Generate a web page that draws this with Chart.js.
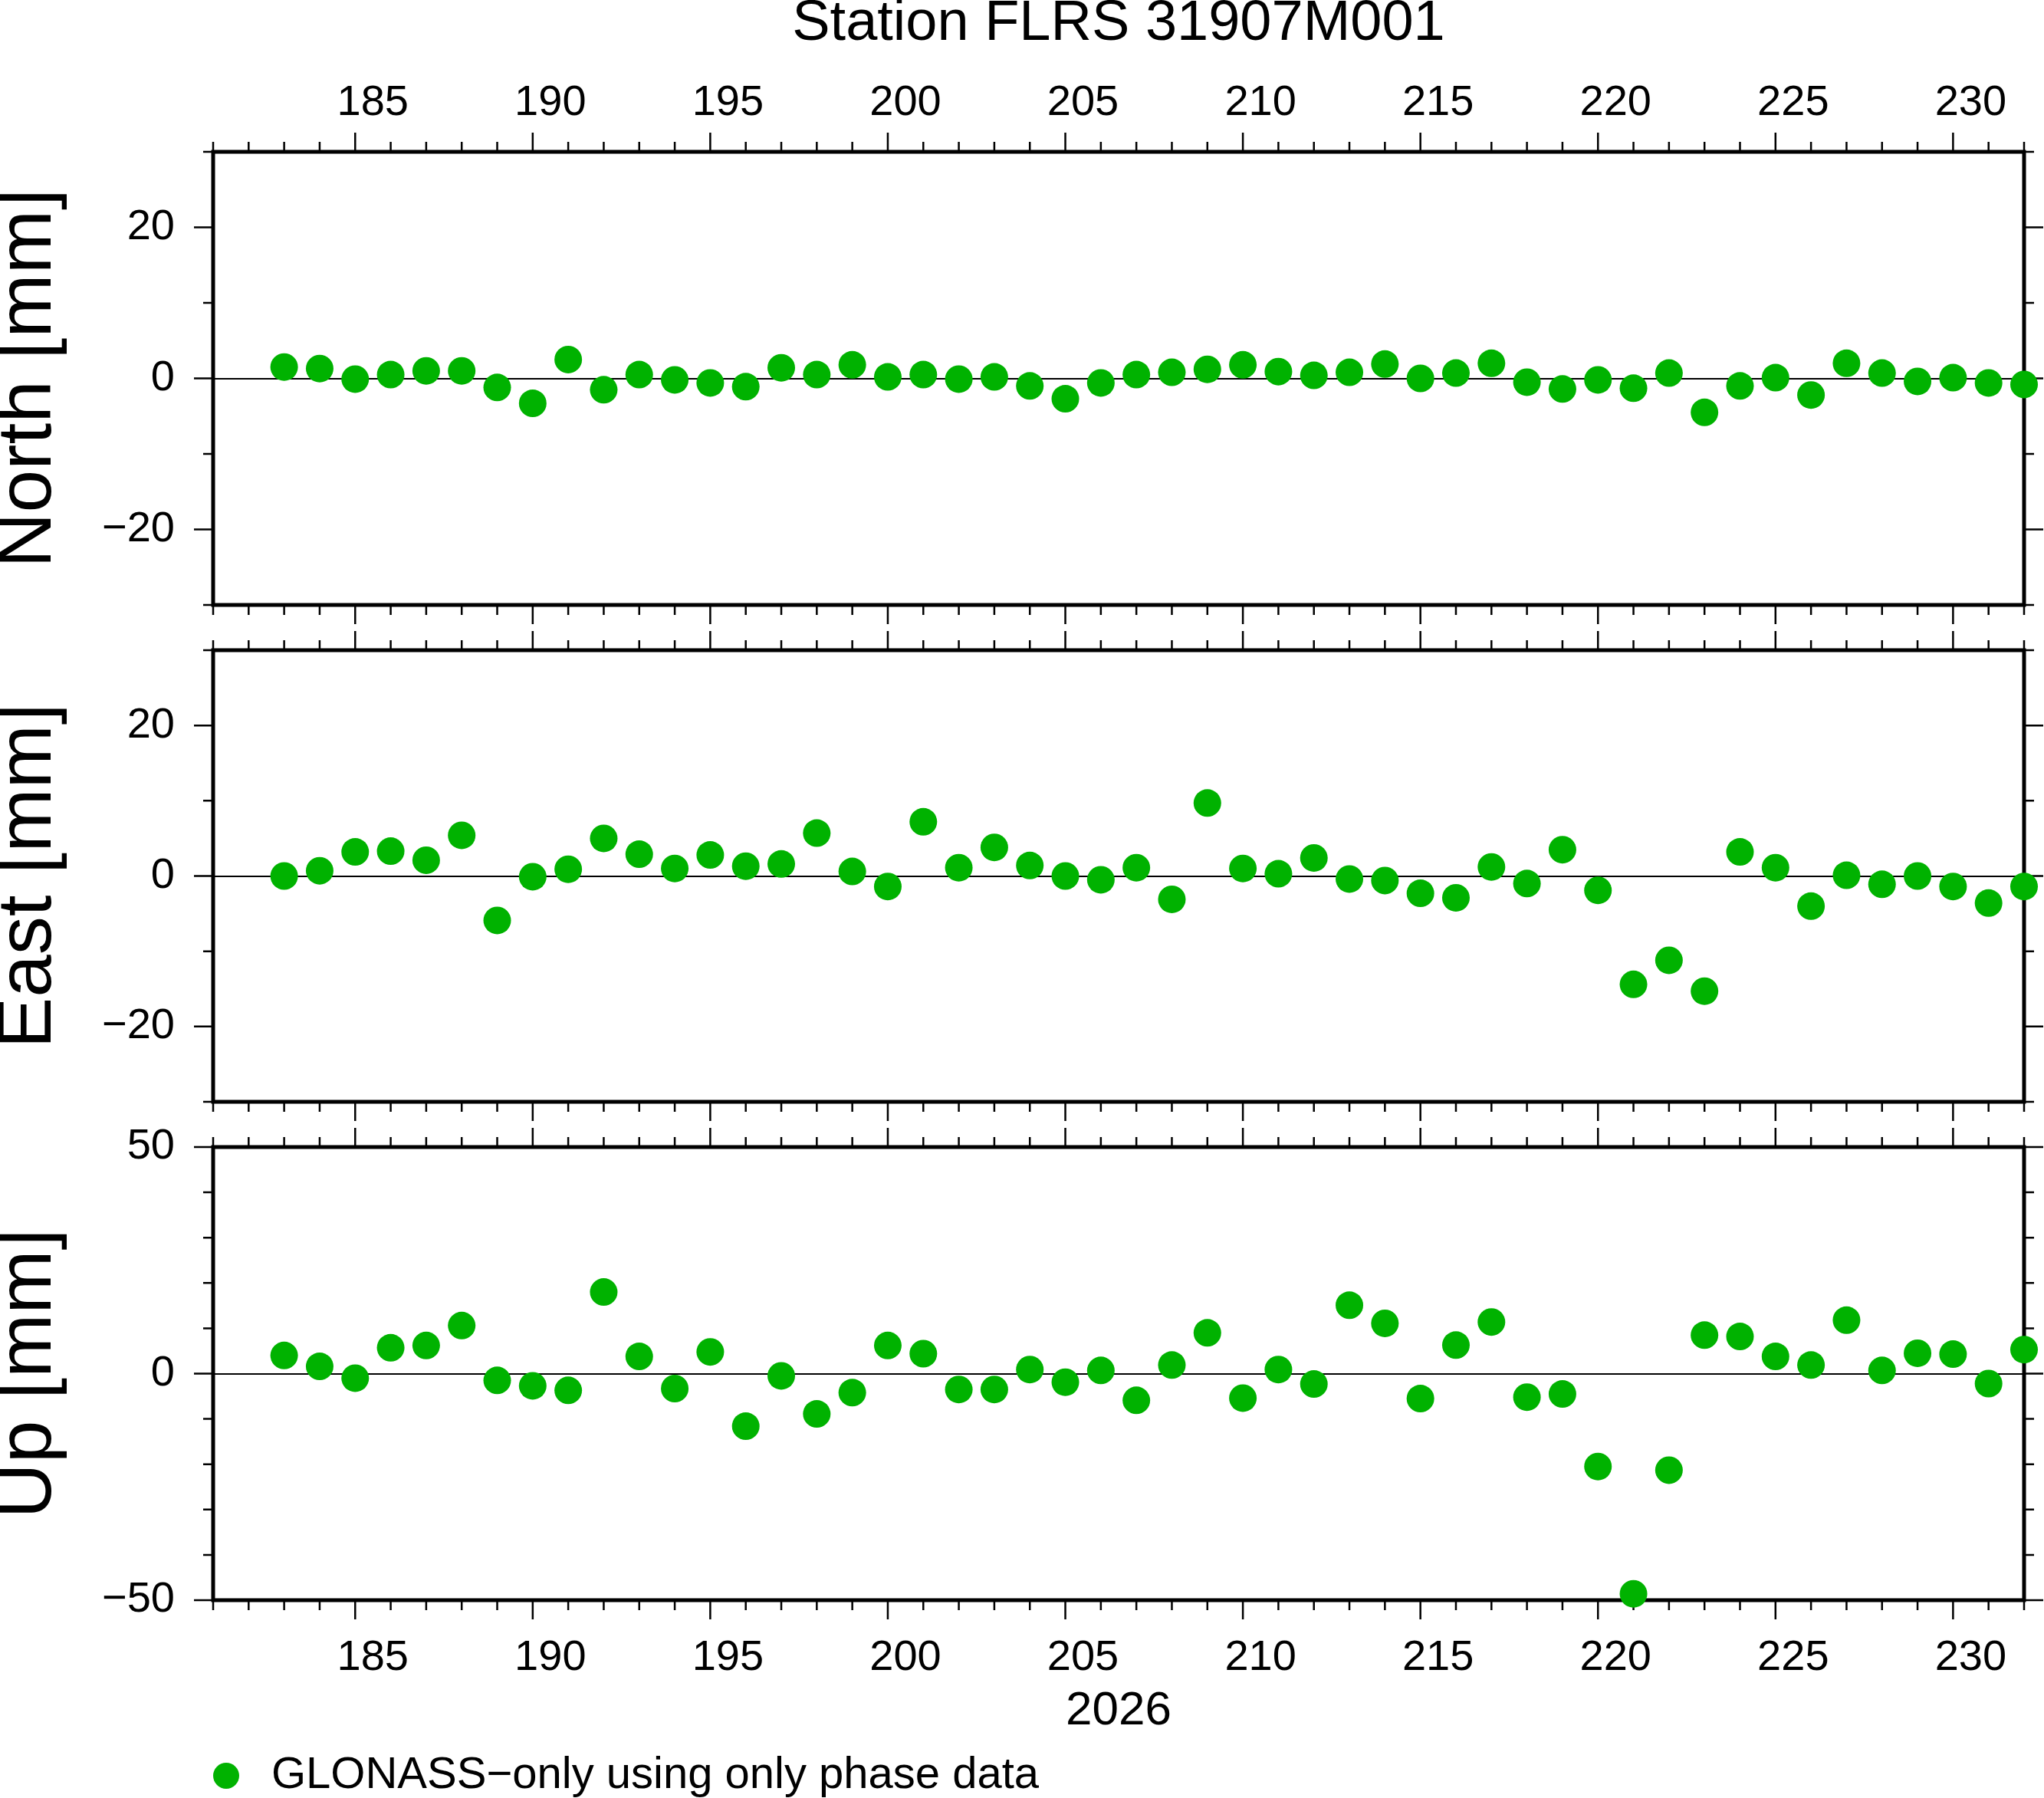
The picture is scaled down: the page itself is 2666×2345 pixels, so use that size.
<!DOCTYPE html>
<html>
<head>
<meta charset="utf-8">
<title>Station FLRS 31907M001</title>
<script src="https://cdn.jsdelivr.net/npm/chart.js@4.4.1/dist/chart.umd.min.js"></script>
<style>
  html, body { margin: 0; padding: 0; background: #fff; overflow: hidden; }
  #wrap { position: relative; width: 2666px; height: 2345px; overflow: hidden; }
  canvas { position: absolute; left: 0; }
</style>
</head>
<body>
<div id="wrap">
  <canvas id="north" width="2666" height="820" style="top:0px"></canvas>
  <canvas id="east" width="2666" height="646" style="top:820px"></canvas>
  <canvas id="up" width="2666" height="895" style="top:1466px"></canvas>
</div>
<script>
// day of year 2026
const days = [183, 184, 185, 186, 187, 188, 189, 190, 191, 192,
              193, 194, 195, 196, 197, 198, 199, 200, 201, 202,
              203, 204, 205, 206, 207, 208, 209, 210, 211, 212,
              213, 214, 215, 216, 217, 218, 219, 220, 221, 222,
              223, 224, 225, 226, 227, 228, 229, 230, 231, 232];

const northMm = [1.5, 1.3, -0.1, 0.5, 1.0, 1.0, -1.2, -3.3, 2.5, -1.5,
                 0.5, -0.2, -0.6, -1.1, 1.4, 0.5, 1.8, 0.2, 0.5, -0.1,
                 0.2, -1.0, -2.7, -0.6, 0.5, 0.8, 1.2, 1.8, 0.9, 0.4,
                 0.8, 1.9, 0.0, 0.7, 2.0, -0.5, -1.4, -0.2, -1.3, 0.7,
                 -4.5, -1.0, 0.1, -2.2, 2.0, 0.7, -0.4, 0.1, -0.6, -0.8];

const eastMm = [0.0, 0.7, 3.2, 3.3, 2.1, 5.4, -5.9, -0.1, 0.9, 5.0,
                2.9, 1.0, 2.8, 1.3, 1.6, 5.7, 0.6, -1.4, 7.2, 1.1,
                3.8, 1.4, 0.0, -0.5, 1.1, -3.1, 9.7, 1.0, 0.3, 2.4,
                -0.4, -0.6, -2.3, -2.9, 1.2, -1.0, 3.5, -1.9, -14.4, -11.2,
                -15.3, 3.2, 1.1, -4.0, 0.1, -1.1, 0.0, -1.4, -3.6, -1.4];

const upMm = [4.0, 1.6, -1.0, 5.7, 6.2, 10.6, -1.5, -2.7, -3.7, 18.0,
              3.8, -3.3, 4.8, -11.6, -0.5, -8.9, -4.2, 6.2, 4.4, -3.5,
              -3.5, 0.9, -1.9, 0.7, -5.9, 1.9, 9.0, -5.4, 0.9, -2.3,
              15.1, 11.1, -5.5, 6.3, 11.4, -5.2, -4.5, -20.5, -48.6, -21.3,
              8.5, 8.2, 3.8, 1.9, 11.8, 0.7, 4.5, 4.3, -2.2, 5.3];

const dayTicks = [185, 190, 195, 200, 205, 210, 215, 220, 225, 230];
const neTicks = [-20, 0, 20];
const upTicks = [-50, 0, 50];

const verde = '#00b200';
Chart.defaults.font.family = '"Liberation Sans", Arial, Helvetica, sans-serif';
Chart.defaults.color = '#000';

// legend symbol: dot sitting at the left of a slightly wider box
const marcaLeyenda = document.createElement('canvas');
marcaLeyenda.width = 47;
marcaLeyenda.height = 36;
const mctx = marcaLeyenda.getContext('2d');
mctx.fillStyle = verde;
mctx.beginPath();
mctx.arc(17, 18, 17, 0, Math.PI * 2);
mctx.fill();

// GMT style frame: thick box plus day / mm ticks on all four sides
const frameTicks = {
    id: 'frameTicks',
    beforeDatasetsDraw(chart, args, opts) {
        const { ctx, chartArea: a } = chart;
        const x = chart.scales.x;
        const y = chart.scales.y;
        ctx.save();
        ctx.strokeStyle = '#000';
        ctx.lineWidth = 2.5;
        ctx.beginPath();
        for (let d = Math.ceil(x.min); d <= x.max; d++) {
            const px = x.getPixelForValue(d);
            const len = d % 5 === 0 ? 25 : 13;
            ctx.moveTo(px, a.top); ctx.lineTo(px, a.top - len);
            ctx.moveTo(px, a.bottom); ctx.lineTo(px, a.bottom + len);
        }
        for (let v = y.min; v <= y.max; v += opts.minor) {
            const py = y.getPixelForValue(v);
            const len = v % opts.major === 0 ? 25 : 13;
            ctx.moveTo(a.left, py); ctx.lineTo(a.left - len, py);
            ctx.moveTo(a.right, py); ctx.lineTo(a.right + len, py);
        }
        ctx.stroke();
        ctx.lineWidth = 5;
        ctx.lineJoin = 'miter';
        ctx.strokeRect(a.left, a.top, a.right - a.left, a.bottom - a.top);
        ctx.restore();
    }
};

const minus = v => v < 0 ? '\u2212' + Math.abs(v) : String(v);

function panel(id, valores, tituloY, yMin, yMax, yTicks, yMajor, extra) {
    const puntos = days.map((d, i) => ({ x: d, y: valores[i] }));
    const xAxis = {
        type: 'linear', min: 181, max: 232,
        position: extra.xPos || 'bottom',
        display: !!extra.xPos,
        afterBuildTicks: s => { s.ticks = dayTicks.map(v => ({ value: v })); },
        afterFit: s => {
            if (extra.xHeight) s.height = extra.xHeight;
            s.paddingLeft = 0;
            s.paddingRight = 0;
        },
        grid: { display: false, drawTicks: false },
        border: { display: false },
        ticks: { font: { size: 56 }, padding: extra.xPad || 0, labelOffset: 23, maxRotation: 0, autoSkip: false },
        title: extra.xTitle || { display: false }
    };
    const config = {
        type: 'scatter',
        data: {
            datasets: [{
                label: 'GLONASS\u2212only using only phase data',
                data: puntos,
                backgroundColor: verde,
                pointBackgroundColor: verde,
                pointRadius: 18,
                pointHoverRadius: 18,
                pointBorderWidth: 0,
                borderWidth: 0,
                clip: false
            }]
        },
        options: {
            responsive: false,
            animation: false,
            devicePixelRatio: 1,
            events: [],
            layout: { padding: extra.padding },
            scales: {
                x: xAxis,
                y: {
                    min: yMin, max: yMax,
                    afterBuildTicks: s => { s.ticks = yTicks.map(v => ({ value: v })); },
                    afterFit: s => {
                        s.width = 278;
                        s.paddingTop = 0;
                        s.paddingBottom = 0;
                    },
                    grid: {
                        drawTicks: false,
                        lineWidth: 2,
                        color: c => (c.tick && c.tick.value === 0) ? '#000' : 'rgba(0,0,0,0)'
                    },
                    border: { display: false },
                    ticks: { font: { size: 56 }, padding: 50, callback: minus },
                    title: { display: true, text: tituloY, font: { size: 100, lineHeight: 0.77 }, padding: 0 }
                }
            },
            plugins: {
                tooltip: { enabled: false },
                title: extra.title || { display: false },
                legend: extra.legend || { display: false },
                frameTicks: { minor: 10, major: yMajor }
            }
        },
        plugins: [frameTicks]
    };
    return new Chart(document.getElementById(id), config);
}

panel('north', northMm, 'North [mm]', -30, 30, neTicks, 20, {
    xPos: 'top',
    xHeight: 198 - 74 * 0.85,
    xPad: 30,
    padding: { left: 0, right: 26, top: 0, bottom: 31 },
    title: {
        display: true, text: 'Station FLRS 31907M001', fullSize: false,
        font: { size: 74, weight: 'normal', lineHeight: 0.85 }, padding: 0, color: '#000'
    }
});

panel('east', eastMm, 'East [mm]', -30, 30, neTicks, 20, {
    padding: { left: 0, right: 26, top: 28, bottom: 29 }
});

panel('up', upMm, 'Up [mm]', -50, 50, upTicks, 50, {
    xPos: 'bottom',
    xHeight: 200,
    xPad: 42,
    xTitle: { display: true, text: '2026', font: { size: 62 }, padding: { top: 0, bottom: 18 } },
    padding: { left: 0, right: 26, top: 30, bottom: 6 },
    legend: {
        display: true, position: 'bottom', align: 'start', fullSize: false,
        labels: {
            font: { size: 58 }, color: '#000', padding: 0,
            usePointStyle: true, pointStyle: marcaLeyenda,
            boxWidth: 47, boxHeight: 36
        }
    }
});
</script>
</body>
</html>
